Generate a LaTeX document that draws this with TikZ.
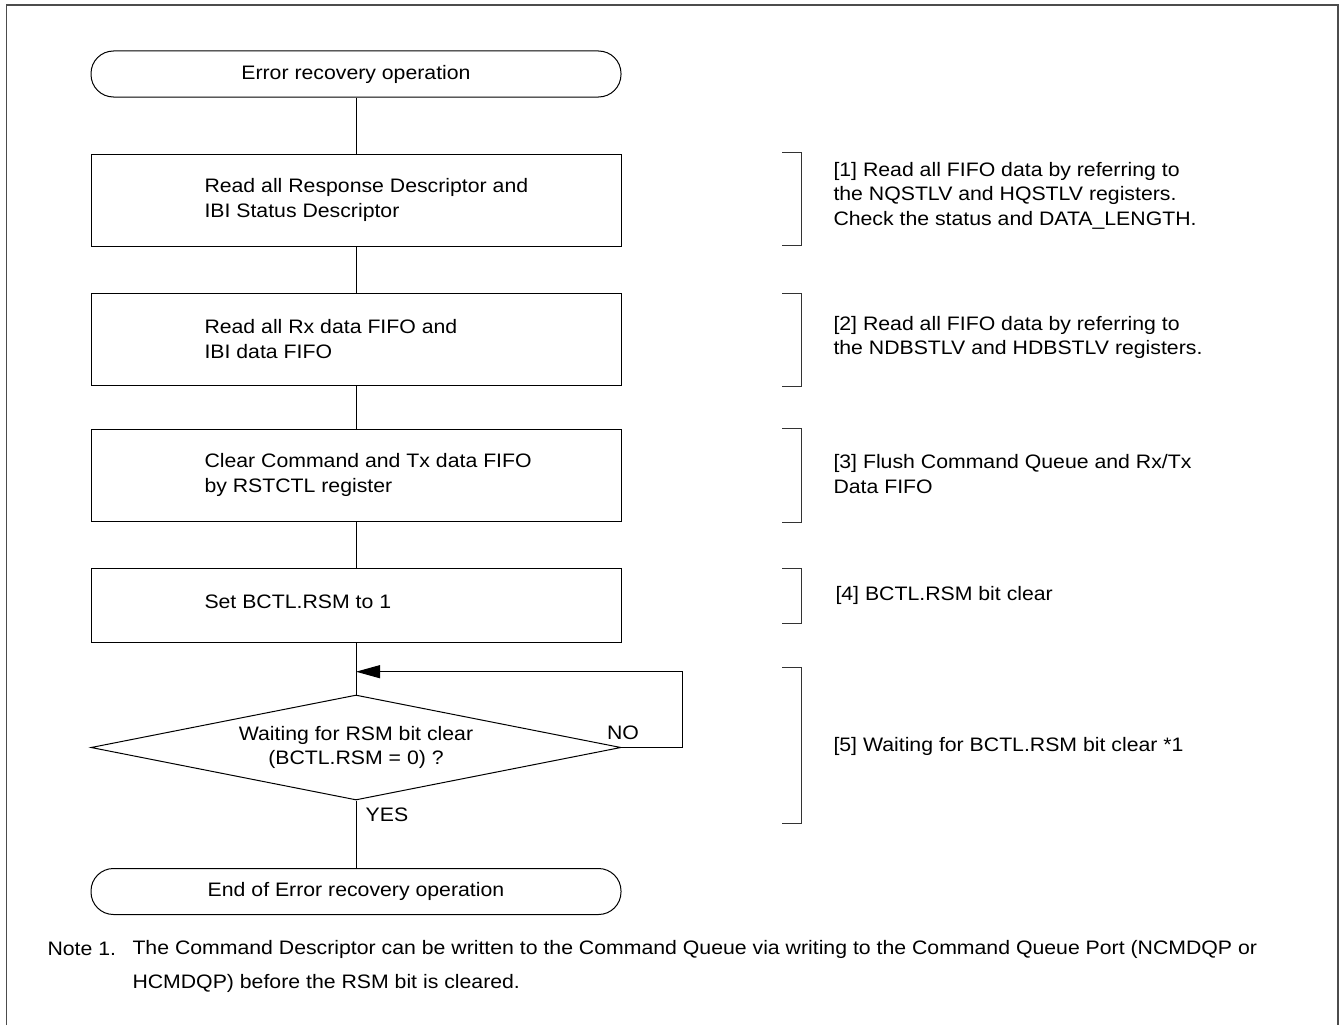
\documentclass[tikz,border=0pt]{standalone}
\usepackage{fontspec}
\setmainfont{Liberation Sans}[FakeStretch=1.09]
\usetikzlibrary{shapes.geometric,arrows.meta,positioning}

\begin{document}
\begin{tikzpicture}[x=1pt,y=-1pt,
  font=\fontsize{19.5pt}{24.5pt}\selectfont,
  line width=1pt,
  term/.style={draw, rounded corners=22.5pt, minimum width=530pt, minimum height=46pt, inner sep=0pt},
  proc/.style={draw, minimum width=530pt, minimum height=92pt, inner sep=0pt},
  cond/.style={draw, diamond, aspect=5, minimum width=530pt, minimum height=105pt, inner sep=0pt, align=center},
  txt/.style={anchor=west, align=left, inner sep=0pt},
  brace/.style={draw, black!80}]
  \useasboundingbox (0,0) rectangle (1343,1025);
  \draw[line width=1.5pt, black!70] (6.5,1025) -- (6.5,5) -- (1338,5) -- (1338,1025);

  \node[term] (start) at (356,74) {Error recovery operation};
  \node[proc] (b1) at (356,200) {};
  \node[proc] (b2) at (356,339) {};
  \node[proc] (b3) at (356,475) {};
  \node[proc, minimum height=74pt] (b4) at (356,605) {};
  \node[cond] (wait) at (356,747.5) {Waiting for RSM bit clear\\(BCTL.RSM = 0) ?};
  \node[term] (stop) at (356,891.5) {End of Error recovery operation};

  \node[txt] (t1) at (204,200) {Read all Response Descriptor and\\IBI Status Descriptor};
  \node[txt] (t2) at (204,339) {Read all Rx data FIFO and\\IBI data FIFO};
  \node[txt] (t3) at (204,475) {Clear Command and Tx data FIFO\\by RSTCTL register};
  \node[txt] (t4) at (204,602) {Set BCTL.RSM to 1};

  \coordinate (join) at (356,671.7);
  \coordinate (loop) at (682,671.7);
  \draw (start) -- (b1);
  \draw (b1) -- (b2);
  \draw (b2) -- (b3);
  \draw (b3) -- (b4);
  \draw (b4) -- (wait);
  \draw (wait) -- (stop);
  \draw[-{Triangle[length=24pt,width=13pt]}] (wait.east) -| (loop) -- (join);
  \node (no) at (623,733) {NO};
  \node (yes) at (387,815) {YES};

  \foreach \t/\b in {152/245, 293/386, 428/522, 568/623, 667/823}
    \draw[brace] (782,\t) -- (801,\t) -- (801,\b) -- (782,\b);

  \node[txt] (n1) at (833,195.7) {[1] Read all FIFO data by referring to\\the NQSTLV and HQSTLV registers.\\Check the status and DATA\_LENGTH.};
  \node[txt] (n2) at (833,337.5) {[2] Read all FIFO data by referring to\\the NDBSTLV and HDBSTLV registers.};
  \node[txt] (n3) at (833,474) {[3] Flush Command Queue and Rx/Tx\\Data FIFO};
  \node[txt] (n4) at (835,595) {[4] BCTL.RSM bit clear};
  \node[txt] (n5) at (833,746.7) {[5] Waiting for BCTL.RSM bit clear *1};

  \node[txt] (notehead) at (47,949) {Note 1.};
  \node[txt, font=\fontsize{19.5pt}{34pt}\selectfont] (notetext) at (132,966) {The Command Descriptor can be written to the Command Queue via writing to the Command Queue Port (NCMDQP or\\HCMDQP) before the RSM bit is cleared.};
\end{tikzpicture}
\end{document}
